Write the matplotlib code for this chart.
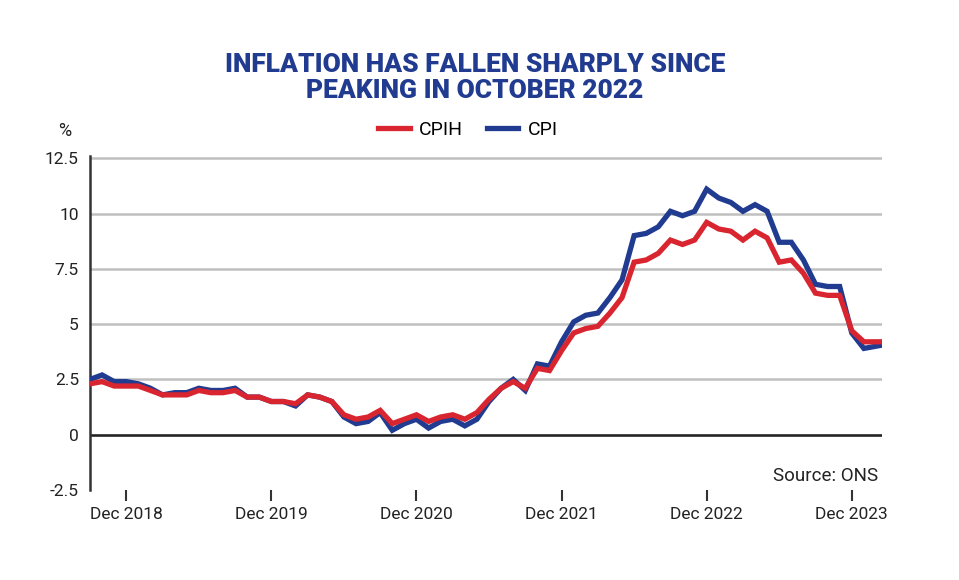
import matplotlib
matplotlib.use("Agg")
import matplotlib.pyplot as plt

# Monthly data Jul 2018 .. Jan 2024
cpih = [2.3, 2.4, 2.2, 2.2, 2.2, 2.0,
        1.8, 1.8, 1.8, 2.0, 1.9, 1.9, 2.0, 1.7, 1.7, 1.5, 1.5, 1.4,
        1.8, 1.7, 1.5, 0.9, 0.7, 0.8, 1.1, 0.5, 0.7, 0.9, 0.6, 0.8,
        0.9, 0.7, 1.0, 1.6, 2.1, 2.4, 2.1, 3.0, 2.9, 3.8, 4.6, 4.8,
        4.9, 5.5, 6.2, 7.8, 7.9, 8.2, 8.8, 8.6, 8.8, 9.6, 9.3, 9.2,
        8.8, 9.2, 8.9, 7.8, 7.9, 7.3, 6.4, 6.3, 6.3, 4.7, 4.2, 4.2,
        4.2]
cpi = [2.5, 2.7, 2.4, 2.4, 2.3, 2.1,
       1.8, 1.9, 1.9, 2.1, 2.0, 2.0, 2.1, 1.7, 1.7, 1.5, 1.5, 1.3,
       1.8, 1.7, 1.5, 0.8, 0.5, 0.6, 1.0, 0.2, 0.5, 0.7, 0.3, 0.6,
       0.7, 0.4, 0.7, 1.5, 2.1, 2.5, 2.0, 3.2, 3.1, 4.2, 5.1, 5.4,
       5.5, 6.2, 7.0, 9.0, 9.1, 9.4, 10.1, 9.9, 10.1, 11.1, 10.7, 10.5,
       10.1, 10.4, 10.1, 8.7, 8.7, 7.9, 6.8, 6.7, 6.7, 4.6, 3.9, 4.0,
       4.1]
tick_idx = [3, 15, 27, 39, 51, 63]
tick_labels = ["Dec 2018", "Dec 2019", "Dec 2020", "Dec 2021", "Dec 2022", "Dec 2023"]
yticks = [-2.5, 0, 2.5, 5, 7.5, 10, 12.5]
ytick_labels = ["-2.5", "0", "2.5", "5", "7.5", "10", "12.5"]

plt.rcParams['font.family'] = ['Roboto', 'DejaVu Sans']
red = "#d9252f"
blue = "#203b8f"

fig = plt.figure(figsize=(9.59, 5.8), dpi=100)
ax = fig.add_axes([90/959, 1-490/580, (882-90)/959, (490-156)/580])
x = list(range(len(cpi)))
for v in yticks[1:]:
    ax.axhline(v, color="#c0c0c0", lw=1.8, zorder=0)
ax.axhline(0, color="#222222", lw=1.8, zorder=1)
ax.plot(x, cpi, color=blue, lw=3.8, zorder=3, label="CPI", solid_joinstyle="miter")
ax.plot(x, cpih, color=red, lw=3.8, zorder=4, label="CPIH", solid_joinstyle="miter")
ax.set_xlim(0, 65.5)
ax.set_ylim(-2.5, 12.6)
ax.set_yticks(yticks)
ax.set_yticklabels(ytick_labels)
ax.set_xticks(tick_idx)
ax.set_xticklabels(tick_labels)
for s in ["top", "right", "bottom"]:
    ax.spines[s].set_visible(False)
ax.spines["left"].set_color("#333333")
ax.spines["left"].set_linewidth(1.8)
ax.tick_params(axis="y", length=0, labelsize=12.5, colors="#222222", pad=8)
ax.tick_params(axis="x", length=8, width=1.5, color="#333333", labelsize=12.5,
               labelcolor="#222222", direction="out", pad=4)
ax.text(0.995, 0.015, "Source: ONS", transform=ax.transAxes, ha="right", va="bottom",
        fontsize=13.5, color="#222222")
fig.text(475/959, 1-78/580, "INFLATION HAS FALLEN SHARPLY SINCE\nPEAKING IN OCTOBER 2022",
         ha="center", va="center", fontsize=19, fontweight="heavy", color=blue,
         linespacing=1.1)
fig.text(65/959, 1-131/580, "%", ha="center", va="center", fontsize=13, color="#222222")
h = ax.get_legend_handles_labels()
leg = fig.legend([h[0][1], h[0][0]], ["CPIH", "CPI"], loc="center", bbox_to_anchor=(468/959, 1-130/580),
                 ncol=2, frameon=False, fontsize=14, handlelength=1.6, columnspacing=1.2,
                 handletextpad=0.5)
fig.savefig("out.png", dpi=100, facecolor="white")
